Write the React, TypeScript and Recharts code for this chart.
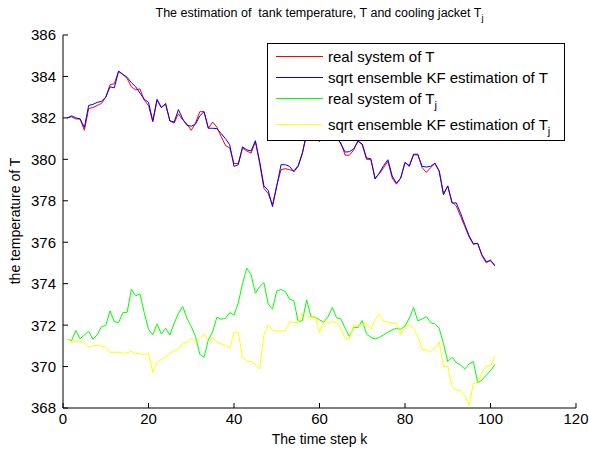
import React from "react";
import { LineChart, Line, XAxis, YAxis, Legend } from "recharts";

// time step k = 1..101
const steps = Array.from({ length: 101 }, (_, i) => i + 1);

const realT = [
  382.0, 382.05, 381.95, 381.95, 381.4, 382.45, 382.5, 382.6, 382.7, 383.0,
  383.6, 383.65, 384.25, 384.1, 383.9, 383.5, 383.35, 383.4, 382.85, 382.6,
  381.8, 382.85, 382.5, 382.65, 381.85, 381.75, 382.2, 381.9, 381.7, 381.4,
  381.75, 382.3, 382.3, 381.5, 381.8, 381.55, 381.1, 380.67, 380.55, 379.8,
  379.8, 380.55, 380.4, 380.3, 380.85, 379.8, 378.6, 378.35, 377.8, 378.75,
  379.5, 379.55, 379.5, 379.45, 379.7, 380.3, 381.2, 381.5, 381.2, 380.85,
  381.3, 381.6, 381.4, 381.0, 380.8, 380.2, 380.2, 380.45, 380.9, 380.7,
  380.0, 380.0, 379.1, 379.3, 379.6, 379.9, 379.1, 378.8, 379.1, 379.85,
  379.7, 380.25, 380.25, 379.6, 379.37, 379.6, 379.8, 379.45, 378.35, 378.7,
  377.95, 377.75, 377.25, 376.75, 376.25, 375.9, 375.95, 375.35, 375.0, 375.15,
  374.85,
];

const estT = [
  382.0, 382.1, 382.0, 381.95, 381.54, 382.6, 382.65, 382.75, 382.8, 383.0,
  383.5, 383.45, 384.25, 384.1, 383.96, 383.7, 383.5, 383.2, 382.9, 382.75,
  381.86, 382.9, 382.5, 382.7, 381.86, 381.8, 382.4, 381.95, 381.64, 381.6,
  381.7, 382.1, 382.3, 381.5, 381.5, 381.48, 381.24, 381.0, 380.7, 379.66,
  379.74, 380.6, 380.46, 380.4, 380.9, 379.9, 378.72, 378.5, 377.72, 378.7,
  379.74, 379.74, 379.66, 379.4, 379.66, 380.3, 381.3, 381.6, 381.3, 381.0,
  381.4, 381.7, 381.5, 381.1, 380.74, 380.35, 380.37, 380.5, 380.87, 380.74,
  380.06, 380.03, 379.05, 379.34, 379.7, 379.98, 379.2, 378.85, 379.1, 379.85,
  379.66, 380.22, 380.22, 379.66, 379.63, 379.66, 379.82, 379.42, 378.29, 378.72,
  377.89, 377.9, 377.4, 376.84, 376.31, 375.92, 375.94, 375.39, 375.07, 375.1,
  374.9,
];

const realTj = [
  371.32, 371.25, 371.74, 371.34, 371.53, 371.7, 371.32, 371.53, 371.93, 371.98,
  372.69, 372.17, 372.12, 372.6, 372.62, 373.73, 373.41, 373.51, 372.6, 371.8,
  371.53, 372.06, 371.57, 371.85, 371.52, 372.09, 372.57, 372.9, 372.33, 371.93,
  371.45, 370.59, 370.45, 371.29, 371.68, 372.38, 372.28, 372.33, 372.6, 372.49,
  373.06, 374.02, 374.75, 374.43, 373.54, 373.86, 374.05, 373.01, 372.77, 373.65,
  373.72, 373.62, 373.25, 373.18, 372.17, 372.22, 373.22, 372.41, 372.38, 372.25,
  372.14, 372.41, 372.85, 372.36, 372.3, 371.85, 371.45, 371.9, 371.88, 372.22,
  371.57, 371.41, 371.33, 371.41, 371.53, 371.66, 371.77, 371.85, 371.8, 371.96,
  372.33, 372.85, 372.2, 372.3, 372.41, 372.12, 372.06, 371.85, 371.12, 370.24,
  370.45, 370.19, 370.08, 369.88, 370.13, 370.24, 369.22, 369.35, 369.59, 369.8,
  370.09,
];

const estTj = [
  371.32, 371.2, 371.2, 371.24, 371.12, 370.93, 371.01, 371.01, 371.0, 370.93,
  370.69, 370.69, 370.69, 370.64, 370.67, 370.74, 370.61, 370.64, 370.56, 370.64,
  369.72, 370.21, 370.35, 370.45, 370.64, 370.75, 370.83, 371.16, 371.17, 371.37,
  371.2, 371.34, 371.57, 371.2, 371.41, 371.17, 371.09, 371.01, 370.88, 371.66,
  371.66, 370.4, 370.27, 370.24, 370.08, 369.88, 371.53, 372.01, 371.77, 371.72,
  371.72, 371.72, 372.17, 372.12, 372.14, 372.6, 372.41, 372.38, 372.41, 371.64,
  372.25, 372.09, 372.17, 372.12, 371.85, 371.34, 371.34, 372.01, 371.98, 372.04,
  372.06, 371.8, 372.25, 372.54, 372.17, 372.14, 372.12, 372.09, 371.53, 371.93,
  372.01, 371.85, 371.45, 370.83, 370.8, 370.72, 370.9, 371.2, 369.99, 370.02,
  369.03, 368.87, 368.84, 368.58, 368.14, 369.19, 369.22, 369.72, 370.02, 370.02,
  370.51,
];

const xTicks = [0, 20, 40, 60, 80, 100, 120];
const yTicks = [368, 370, 372, 374, 376, 378, 380, 382, 384, 386];

const data = steps.map((k, i) => ({
  k,
  realT: realT[i],
  estT: estT[i],
  realTj: realTj[i],
  estTj: estTj[i],
}));

const FONT = '"Liberation Sans", Arial, Helvetica, sans-serif';
const TICK_FONT = 15;

const BottomTick = ({ x, y, payload }: any) => (
  <g>
    <line x1={x} x2={x} y1={y} y2={y - 5} stroke="#000" />
    <text x={x} y={y + 16} textAnchor="middle" fontSize={TICK_FONT} fill="#000" fontFamily={FONT}>
      {payload.value}
    </text>
  </g>
);

const LeftTick = ({ x, y, payload }: any) => (
  <g>
    <line x1={x} x2={x + 5} y1={y} y2={y} stroke="#000" />
    <text x={x - 7} y={y} dy="0.36em" textAnchor="end" fontSize={TICK_FONT} fill="#000" fontFamily={FONT}>
      {payload.value}
    </text>
  </g>
);

const TopTick = ({ x, y }: any) => <line x1={x} x2={x} y1={y} y2={y + 5} stroke="#000" />;
const RightTick = ({ x, y }: any) => <line x1={x} x2={x - 5} y1={y} y2={y} stroke="#000" />;

const Sub = ({ children }: { children: React.ReactNode }) => (
  <span style={{ fontSize: "0.75em", position: "relative", top: "0.45em" }}>{children}</span>
);

const legendRows = [
  { color: "#ff0000", label: <>real system of T</>, cy: 13 },
  { color: "#0000ff", label: <>sqrt ensemble KF estimation of T</>, cy: 33.5 },
  { color: "#00ff00", label: <>real system of T<Sub>j</Sub></>, cy: 54.5 },
  { color: "#ffff00", label: <>sqrt ensemble KF estimation of T<Sub>j</Sub></>, cy: 81 },
];

const LegendBox = () => (
  <div
    style={{
      position: "relative",
      width: 298,
      height: 98,
      boxSizing: "border-box",
      border: "1px solid #000",
      background: "#fff",
      fontFamily: FONT,
      fontSize: 15,
      color: "#000",
    }}
  >
    {legendRows.map((r, i) => (
      <div key={i} style={{ position: "absolute", left: 0, top: r.cy - 10, height: 20, width: "100%" }}>
        <div style={{ position: "absolute", left: 8, top: 9, width: 47, height: 1, background: r.color }} />
        <div style={{ position: "absolute", left: 60, top: 1, lineHeight: "18px", whiteSpace: "nowrap" }}>
          {r.label}
        </div>
      </div>
    ))}
  </div>
);

export default function App() {
  return (
    <div
      style={{
        position: "absolute",
        left: 0,
        top: 0,
        width: 589,
        height: 450,
        background: "#fff",
        fontFamily: FONT,
      }}
    >
      <div
        style={{
          position: "absolute",
          top: 5,
          left: 0,
          width: 639,
          textAlign: "center",
          fontSize: 12.5,
          whiteSpace: "pre",
          lineHeight: "16px",
        }}
      >
        The estimation of  tank temperature, T and cooling jacket T<Sub>j</Sub>
      </div>
      <LineChart
        width={589}
        height={450}
        data={data}
        margin={{ top: 35, right: 13, bottom: 0, left: 0 }}
      >
        <XAxis
          dataKey="k"
          type="number"
          domain={[0, 120]}
          ticks={xTicks}
          height={42}
          stroke="#000"
          tickLine={false}
          tickSize={0}
          tickMargin={0}
          tick={<BottomTick />}
          interval={0}
        />
        <XAxis
          xAxisId="top"
          orientation="top"
          dataKey="k"
          type="number"
          domain={[0, 120]}
          ticks={xTicks}
          height={0}
          stroke="#000"
          tickLine={false}
          tickSize={0}
          tickMargin={0}
          tick={<TopTick />}
          interval={0}
        />
        <YAxis
          type="number"
          domain={[368, 386]}
          ticks={yTicks}
          width={63}
          stroke="#000"
          tickLine={false}
          tickSize={0}
          tickMargin={0}
          tick={<LeftTick />}
          interval={0}
        />
        <YAxis
          yAxisId="right"
          orientation="right"
          type="number"
          domain={[368, 386]}
          ticks={yTicks}
          width={0}
          stroke="#000"
          tickLine={false}
          tickSize={0}
          tickMargin={0}
          tick={<RightTick />}
          interval={0}
        />
        <Line dataKey="realT" stroke="#ff0000" strokeWidth={1} dot={false} isAnimationActive={false} />
        <Line dataKey="estT" stroke="#0000ff" strokeWidth={1} dot={false} isAnimationActive={false} />
        <Line dataKey="realTj" stroke="#00ff00" strokeWidth={1} dot={false} isAnimationActive={false} />
        <Line dataKey="estTj" stroke="#ffff00" strokeWidth={1} dot={false} isAnimationActive={false} />
        <Legend
          layout="vertical"
          align="center"
          verticalAlign="middle"
          content={() => <LegendBox />}
          wrapperStyle={{ position: "absolute", left: 267, top: 43, width: 298, height: 98 }}
        />
      </LineChart>
      <div
        style={{
          position: "absolute",
          top: 431,
          left: 0,
          width: 639,
          textAlign: "center",
          fontSize: 14,
          lineHeight: "16px",
        }}
      >
        The time step k
      </div>
      <div
        style={{
          position: "absolute",
          left: 15,
          top: 221,
          transform: "translate(-50%, -50%) rotate(-90deg)",
          fontSize: 14,
          lineHeight: "16px",
          whiteSpace: "nowrap",
        }}
      >
        the temperature of T
      </div>
    </div>
  );
}
